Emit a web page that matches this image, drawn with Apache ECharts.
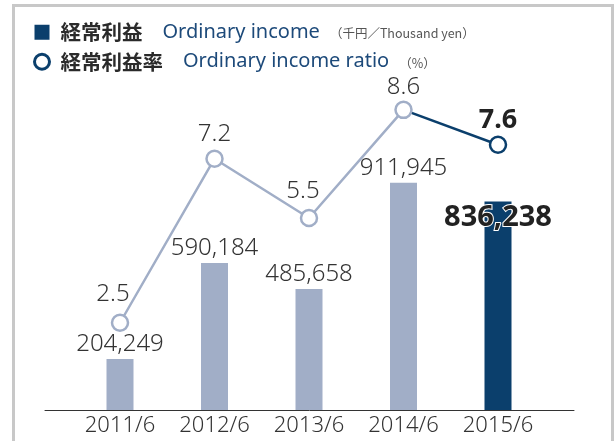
<!DOCTYPE html>
<html>
<head>
<meta charset="utf-8">
<script src="https://cdn.jsdelivr.net/npm/echarts@6/dist/echarts.min.js"></script>
<style>
html,body{margin:0;padding:0;background:#fff;}
#c{width:614px;height:441px;}
</style>
</head>
<body>
<div id="c"></div>
<script>
// ---- data ----
const categories = ['2011/6', '2012/6', '2013/6', '2014/6', '2015/6'];
const ordinaryIncome = [204249, 590184, 485658, 911945, 836238];
const incomeRatio = [2.5, 7.2, 5.5, 8.6, 7.6];
const legendNames = ['経常利益', '経常利益率'];
const legendEnglish = ['Ordinary income', 'Ordinary income ratio'];
const legendUnits = ['（千円／Thousand yen）', '（%）'];

// ---- styles ----
const LIGHT = '#a1aec7';
const NAVY = '#0b3f6c';
const TEXT = '#333333';
const NUM_FONT = "'Noto Sans', 'DejaVu Sans', sans-serif";
const JP_FONT = "'Noto Sans CJK JP', 'Noto Sans', sans-serif";
const last = categories.length - 1;
const ratioLabelOffsets = [[-7, -2], [0, 2], [-6, -1], [0, 4]];

const barData = ordinaryIncome.map((v, i) => {
  if (i === last) {
    return {
      value: v,
      itemStyle: { color: NAVY },
      label: {
        position: 'insideTop', distance: 2,
        fontSize: 29, fontWeight: 'bold', color: '#222',
        textBorderColor: '#fff', textBorderWidth: 2
      }
    };
  }
  return { value: v };
});

const lightLine = incomeRatio.map((v, i) => {
  if (i === last) return '-';
  return { value: v, label: { offset: ratioLabelOffsets[i] } };
});
const darkLine = incomeRatio.map((v, i) => (i >= last - 1 ? v : '-'));

const chart = echarts.init(document.getElementById('c'), null, { renderer: 'canvas' });

const fmtNum = n => n.toLocaleString('en-US');

chart.setOption({
  animation: false,
  backgroundColor: '#fff',
  graphic: [{
    type: 'rect',
    shape: { x: 13.5, y: 5.5, width: 599, height: 460 },
    style: { fill: 'none', stroke: '#c8c8c8', lineWidth: 3 },
    silent: true, z: -10
  }],
  legend: {
    orient: 'vertical',
    left: 28, top: 17,
    itemWidth: 15, itemHeight: 15,
    itemGap: 9,
    selectedMode: false,
    data: [
      { name: legendNames[0], icon: 'rect', itemStyle: { color: NAVY } },
      { name: legendNames[1], icon: 'circle', itemStyle: { color: '#fff', borderColor: NAVY, borderWidth: 3 } }
    ],
    formatter: name => {
      const i = legendNames.indexOf(name);
      return '{jp|' + name + '}{en|' + legendEnglish[i] + '}{unit|' + legendUnits[i] + '}';
    },
    textStyle: {
      rich: {
        jp: { fontFamily: JP_FONT, fontWeight: 'bold', fontSize: 20.5, color: '#2a2a2a', padding: [0, 0, 0, 6], lineHeight: 21 },
        en: { fontFamily: NUM_FONT, fontSize: 20, color: '#1d4a7a', padding: [0, 0, 0, 20], lineHeight: 21 },
        unit: { fontFamily: JP_FONT, fontSize: 12.5, color: '#555', padding: [3, 0, 0, 10], lineHeight: 21 }
      }
    }
  },
  grid: [
    { left: 72.75, right: 68.75, top: 61, bottom: 31 },
    { left: 45, right: 40, top: 61, bottom: 31 }
  ],
  xAxis: [
    {
      type: 'category', gridIndex: 0, data: categories,
      axisLine: { show: false }, axisTick: { show: false },
      axisLabel: { fontFamily: NUM_FONT, fontWeight: 300, fontSize: 22, color: TEXT, margin: 5 }
    },
    {
      type: 'category', gridIndex: 1, data: [''],
      axisLine: { show: true, lineStyle: { color: '#333', width: 1 } },
      axisTick: { show: false }, axisLabel: { show: false }
    }
  ],
  yAxis: [
    { type: 'value', gridIndex: 0, min: 0, max: 1400000, show: false, splitLine: { show: false } },
    { type: 'value', gridIndex: 0, min: 0, max: 10, show: false, splitLine: { show: false } },
    { type: 'value', gridIndex: 1, show: false, splitLine: { show: false } }
  ],
  series: [
    {
      name: legendNames[0],
      type: 'bar',
      xAxisIndex: 0, yAxisIndex: 0,
      barWidth: 27,
      itemStyle: { color: LIGHT },
      data: barData,
      z: 1,
      label: {
        show: true, position: 'top', distance: 3,
        fontFamily: NUM_FONT, fontWeight: 300, fontSize: 24, color: TEXT,
        formatter: p => fmtNum(p.value)
      }
    },
    {
      name: legendNames[1],
      type: 'line',
      xAxisIndex: 0, yAxisIndex: 1,
      data: lightLine,
      symbol: 'circle', symbolSize: 16,
      lineStyle: { color: LIGHT, width: 2.5 },
      itemStyle: { color: '#fff', borderColor: LIGHT, borderWidth: 2.5 },
      z: 4,
      label: {
        show: true, position: 'top', distance: 5,
        fontFamily: NUM_FONT, fontWeight: 300, fontSize: 24, color: TEXT
      }
    },
    {
      name: 'ratio-latest',
      type: 'line',
      xAxisIndex: 0, yAxisIndex: 1,
      data: darkLine,
      symbol: 'circle',
      symbolSize: (v, p) => (p.dataIndex === last ? 16 : 0),
      lineStyle: { color: NAVY, width: 2.5 },
      itemStyle: { color: '#fff', borderColor: NAVY, borderWidth: 2.5 },
      z: 3,
      label: {
        show: true, position: 'top', distance: 2,
        fontFamily: NUM_FONT, fontSize: 27, fontWeight: 'bold', color: '#222',
        formatter: p => (p.dataIndex === last ? String(p.value) : '')
      }
    }
  ]
});
</script>
</body>
</html>
